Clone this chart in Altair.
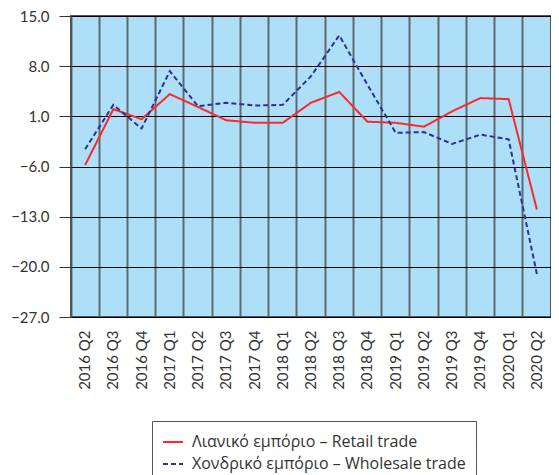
import altair as alt
import pandas as pd

quarters = ["2016 Q2", "2016 Q3", "2016 Q4", "2017 Q1", "2017 Q2", "2017 Q3", "2017 Q4",
            "2018 Q1", "2018 Q2", "2018 Q3", "2018 Q4", "2019 Q1", "2019 Q2", "2019 Q3",
            "2019 Q4", "2020 Q1", "2020 Q2"]
retail = [-5.8, 2.0, 0.6, 4.1, 2.3, 0.45, 0.1, 0.1, 2.9, 4.4, 0.25, 0.1, -0.45, 1.7, 3.55, 3.4, -12.0]
wholesale = [-3.6, 2.6, -0.7, 7.3, 2.4, 2.9, 2.5, 2.6, 6.6, 12.3, 5.4, -1.3, -1.2, -2.85, -1.55, -2.2, -21.0]
series_names = ["Λιανικό εμπόριο – Retail trade", "Χονδρικό εμπόριο – Wholesale trade"]
y_ticks = [-27, -20, -13, -6, 1, 8, 15]

rows = []
for q, r, w in zip(quarters, retail, wholesale):
    rows.append({"quarter": q, "value": r, "series": series_names[0]})
    rows.append({"quarter": q, "value": w, "series": series_names[1]})
df = pd.DataFrame(rows)

font = "Lato"

chart = alt.Chart(df).mark_line(strokeWidth=2).encode(
    x=alt.X("quarter:N", sort=quarters,
            scale=alt.Scale(type="band", paddingInner=0, paddingOuter=0),
            axis=alt.Axis(title=None, labelAngle=-90, labelFontSize=15, labelFont=font,
                          labelColor="#333333", labelPadding=13, ticks=False, domain=False,
                          grid=True, gridColor="#555555", gridWidth=2, gridOpacity=0.85,
                          bandPosition=0, labelBaseline="middle", labelAlign="right")),
    y=alt.Y("value:Q", scale=alt.Scale(domain=[-27, 15], nice=False, zero=False),
            axis=alt.Axis(title=None, values=y_ticks, format=".1f", labelFontSize=15,
                          labelFont=font, labelColor="#333333", tickSize=12,
                          tickColor="#333333", labelPadding=10, domain=False,
                          grid=True, gridColor="#000000", gridWidth=1)),
    color=alt.Color("series:N", sort=series_names,
                    scale=alt.Scale(domain=series_names, range=["#FF2828", "#2E3192"]),
                    legend=alt.Legend(title=None, orient="none", legendX=81, legendY=405,
                                      direction="vertical", symbolType="stroke",
                                      symbolSize=400, symbolStrokeWidth=2,
                                      labelFontSize=16, labelFont="Open Sans",
                                      labelColor="#333333", labelLimit=400,
                                      padding=10, rowPadding=3, strokeColor="#555555",
                                      fillColor="#FFFFFF", labelOffset=8)),
    strokeDash=alt.StrokeDash("series:N", sort=series_names,
                              scale=alt.Scale(domain=series_names, range=[[1, 0], [5, 3]]),
                              legend=None),
).properties(
    width=480, height=301,
    autosize=alt.AutoSizeParams(type="none"),
    padding={"left": 63, "top": 8, "right": 0, "bottom": 158},
).configure_view(
    fill="#ADDFF8", stroke="#555555", strokeWidth=2
)

chart.save("out.html", embed_options={"renderer": "svg", "actions": False})
